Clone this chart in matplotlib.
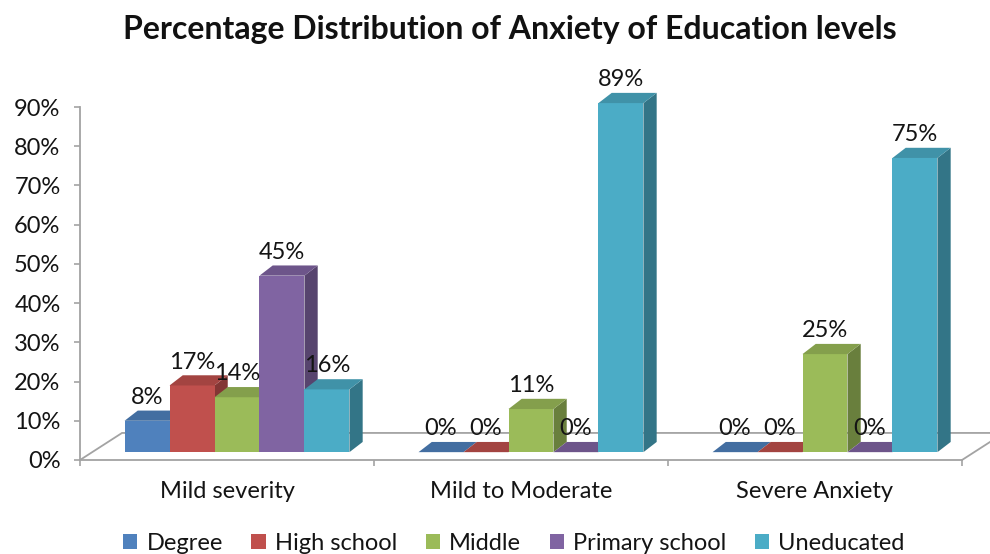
import matplotlib
matplotlib.use("Agg")
import matplotlib.pyplot as plt
from matplotlib.patches import Polygon, Patch
from matplotlib.colors import to_rgb
import numpy as np

plt.rcParams['font.family'] = ['Lato', 'DejaVu Sans']

# anxiety levels and education groups
categories = ['Mild severity', 'Mild to Moderate', 'Severe Anxiety']
groups = ['Degree', 'High school', 'Middle', 'Primary school', 'Uneducated']
degree = [8, 0, 0]
high_school = [17, 0, 0]
middle = [14, 11, 25]
primary = [45, 0, 0]
uneducated = [16, 89, 75]
yticks = [0, 10, 20, 30, 40, 50, 60, 70, 80, 90]

series = [degree, high_school, middle, primary, uneducated]
colors = ['#4F81BD', '#C0504D', '#9BBB59', '#8064A2', '#4BACC6']

def shade(c, f):
    r, g, b = to_rgb(c)
    return (r * f, g * f, b * f)

fig = plt.figure(figsize=(9.9, 5.54), dpi=100)
ax = fig.add_axes([80 / 990, 94 / 554, 882 / 990, 353 / 554])
ax.set_xlim(-0.5, 2.5)
ax.set_ylim(0, 90)

# fake 3d geometry (x in category units, y in percent)
bar_w = 0.153
recess_x, recess_y = 0.034, 2.0    # bars sit a bit back on the floor
depth_x, depth_y = 0.045, 2.6      # thickness of each column
floor_x, floor_y = 0.143, 6.9      # depth of the floor

grey = '#a3a3a3'
txt = '#141414'
ax.plot([-0.5, -0.5 + floor_x, 2.5 + floor_x, 2.5],
        [0, floor_y, floor_y, 0], color=grey, lw=1.3,
        clip_on=False, zorder=1, solid_joinstyle='miter')

n = len(series)
for ci in range(len(categories)):
    left0 = ci - n * bar_w / 2 + recess_x
    for si, vals in enumerate(series):
        v = vals[ci]
        c = colors[si]
        x0 = left0 + si * bar_w
        x1 = x0 + bar_w
        y0 = recess_y
        y1 = recess_y + v
        z = 2 + ci * 10 + si
        front = [(x0, y0), (x1, y0), (x1, y1), (x0, y1)]
        top = [(x0, y1), (x1, y1), (x1 + depth_x, y1 + depth_y),
               (x0 + depth_x, y1 + depth_y)]
        side = [(x1, y0), (x1 + depth_x, y0 + depth_y),
                (x1 + depth_x, y1 + depth_y), (x1, y1)]
        if v > 0:
            ax.add_patch(Polygon(side, closed=True, fc=shade(c, 0.68),
                                 ec='none', clip_on=False, zorder=z))
            ax.add_patch(Polygon(front, closed=True, fc=c, ec='none',
                                 clip_on=False, zorder=z))
        ax.add_patch(Polygon(top, closed=True, fc=shade(c, 0.85), ec='none',
                             clip_on=False, zorder=z))
        ax.annotate(f'{v}%', (x0 + bar_w / 2, y1 + depth_y),
                    xytext=(0, 2), textcoords='offset points',
                    ha='center', va='bottom', fontsize=17,
                    color=txt, zorder=100, annotation_clip=False)

for s in ['top', 'right']:
    ax.spines[s].set_visible(False)
ax.spines['left'].set_color(grey)
ax.spines['left'].set_linewidth(1.3)
ax.spines['bottom'].set_color(grey)
ax.spines['bottom'].set_linewidth(1.3)
ax.patch.set_alpha(0)

ax.set_yticks(yticks)
ax.set_yticklabels([f'{t}%' for t in yticks])
ax.tick_params(axis='y', direction='out', length=4, width=1.2, color=grey,
               pad=10, labelsize=17, labelcolor=txt)
ax.set_xticks(range(len(categories)))
ax.set_xticklabels(categories)
ax.tick_params(axis='x', which='major', length=0, pad=15, labelsize=17,
               labelcolor=txt)
ax.set_xticks([-0.5, 0.5, 1.5, 2.5], minor=True)
ax.tick_params(axis='x', which='minor', direction='out', length=4,
               width=1.2, color=grey)

fig.text(510 / 990, 1 - 30 / 554,
         'Percentage Distribution of Anxiety of Education levels',
         ha='center', va='center', fontsize=23, fontweight='bold',
         color='#111111')

handles = [Patch(fc=c, ec='none', label=g) for c, g in zip(colors, groups)]
fig.legend(handles=handles, loc='center', ncol=5, frameon=False,
           bbox_to_anchor=(514 / 990, 1 - 543 / 554), fontsize=17,
           handlelength=0.6, handleheight=0.6, handletextpad=0.4,
           columnspacing=1.2, labelcolor=txt)

fig.savefig('out.png', dpi=100, facecolor='white')
